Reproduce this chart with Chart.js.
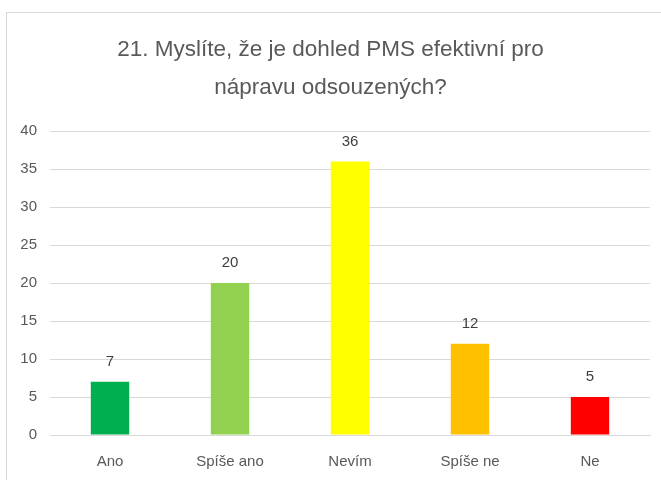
<!DOCTYPE html>
<html>
<head>
<meta charset="utf-8">
<script src="https://cdn.jsdelivr.net/npm/chart.js@4"></script>
<style>
  html, body { margin: 0; padding: 0; background: #fff; }
  #frame { position: absolute; left: 6px; top: 12px; width: 700px; height: 500px; border: 1px solid #d9d9d9; box-sizing: border-box; }
  #wrap { position: absolute; left: 0; top: 0; width: 661px; height: 480px; }
</style>
</head>
<body>
<div id="frame"></div>
<div id="wrap"><canvas id="chart"></canvas></div>
<script>
// chart data
const categories = ['Ano', 'Spíše ano', 'Nevím', 'Spíše ne', 'Ne'];
const values = [7, 20, 36, 12, 5];
const barColors = ['#00B050', '#92D050', '#FFFF00', '#FFC000', '#FF0000'];
const titleLines = ['21. Myslíte, že je dohled PMS efektivní pro', 'nápravu odsouzených?'];

const textColor = '#595959';
const fontFamily = '"Liberation Sans", Arial, sans-serif';

// draws the value above each bar
const valueLabels = {
    id: 'valueLabels',
    afterDatasetsDraw(chart) {
        const ctx = chart.ctx;
        const meta = chart.getDatasetMeta(0);
        ctx.save();
        ctx.font = '15px ' + fontFamily;
        ctx.fillStyle = '#404040';
        ctx.textAlign = 'center';
        ctx.textBaseline = 'middle';
        meta.data.forEach(function(bar, i) {
            ctx.fillText(values[i], bar.x, bar.y - 20);
        });
        ctx.restore();
    }
};

document.addEventListener('DOMContentLoaded', function() {
    const ctx = document.getElementById('chart').getContext('2d');
    new Chart(ctx, {
        type: 'bar',
        data: {
            labels: categories,
            datasets: [{
                data: values,
                backgroundColor: barColors,
                borderWidth: 0,
                categoryPercentage: 1,
                barPercentage: 0.32
            }]
        },
        options: {
            responsive: true,
            maintainAspectRatio: false,
            animation: false,
            layout: { padding: { top: 0, right: 11, bottom: 0, left: 11 } },
            scales: {
                y: {
                    min: 0,
                    max: 40,
                    ticks: {
                        stepSize: 5,
                        color: textColor,
                        padding: 13,
                        font: { family: fontFamily, size: 15 }
                    },
                    grid: { color: '#d9d9d9', drawTicks: false },
                    border: { display: false },
                    afterFit: function(scale) { scale.width = 39; }
                },
                x: {
                    ticks: {
                        color: textColor,
                        padding: 18,
                        font: { family: fontFamily, size: 15 }
                    },
                    grid: { display: false, drawTicks: false },
                    border: { color: '#d9d9d9' },
                    afterFit: function(scale) { scale.height = 45; }
                }
            },
            plugins: {
                legend: { display: false },
                tooltip: { enabled: false },
                title: {
                    display: true,
                    text: titleLines,
                    color: textColor,
                    font: { family: fontFamily, size: 22.5, weight: 'normal', lineHeight: 38 / 22.5 },
                    padding: { top: 31, bottom: 24 }
                }
            }
        },
        plugins: [valueLabels]
    });
});
</script>
</body>
</html>
